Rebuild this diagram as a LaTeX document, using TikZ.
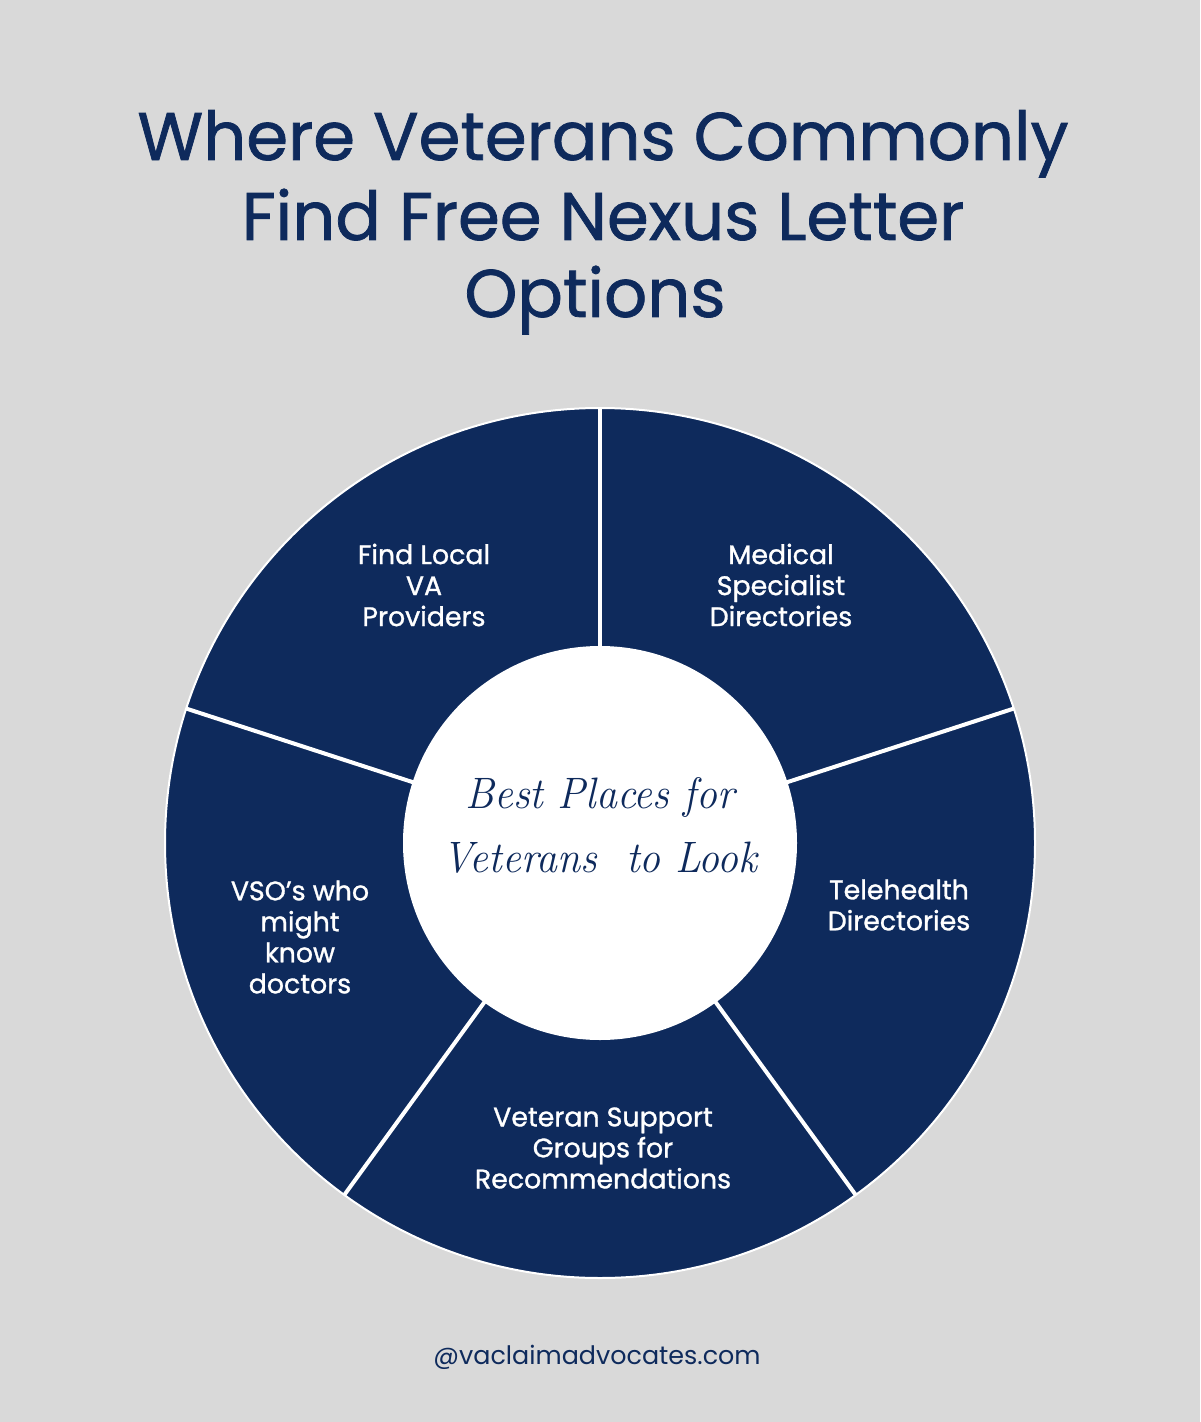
\documentclass[tikz,border=0pt]{standalone}
\usepackage{fontspec}
\usetikzlibrary{calc}
\setmainfont{Poppins}
\newfontfamily\poppinsM{Poppins}[FakeBold=1.1]
\newfontfamily\serifit{Latin Modern Roman}[FakeStretch=0.95]
\definecolor{navy}{HTML}{0E2A5C}
\definecolor{bggray}{HTML}{D9D9D9}
\tikzset{
  titleline/.style={anchor=base, text=navy, font=\poppinsM\fontsize{33.7}{39}\selectfont, inner sep=0pt},
  seglabel/.style={align=center, text=white, font=\poppinsM\fontsize{13.4}{15.5}\selectfont, inner sep=0pt},
  centreline/.style={anchor=base, text=navy, inner sep=0pt, font=\serifit\itshape\fontsize{22}{32}\selectfont},
  divider/.style={white, line width=2pt},
}
\begin{document}
\begin{tikzpicture}[x=0.5pt, y=-0.5pt]
\fill[bggray] (0,0) rectangle (1200,1422);
\useasboundingbox (0,0) rectangle (1200,1422);
% title
\node[titleline] (t1) at (603,160) {Where Veterans Commonly};
\node[titleline] (t2) at (603,240) {Find Free Nexus Letter};
\node[titleline] (t3) at (595,317) {Options};
% wheel
\coordinate (c) at (600,843);
\fill[navy] (c) circle[radius=435];
\draw[white, line width=1pt] (c) circle[radius=435];
\foreach \a/\n in {-90/d1,-18/d2,54/d3,126/d4,-162/d5}{
  \coordinate (\n) at ($(c)+(\a:435)$);
  \draw[divider] (c) -- (\n);
}
\fill[white] (c) circle[radius=197];
% labels
\node[seglabel] (l1) at (424,585) {Find Local\\VA\\Providers};
\node[seglabel] (l2) at (781,585) {Medical\\Specialist\\Directories};
\node[seglabel] (l3) at (899,905) {Telehealth\\Directories};
\node[seglabel] (l4) at (603,1148) {Veteran Support\\Groups for\\Recommendations};
\node[seglabel] (l5) at (300,937) {VSO’s who\\might\\know\\doctors};
% centre
\node[centreline] (cm1) at (600,808) {Best Places for};
\node[centreline] (cm2) at (600,872) {Veterans~ to Look};
% footer
\node[anchor=base, text=navy, inner sep=0pt, font=\fontsize{12.7}{15}\selectfont] (ft) at (597,1364) {@vaclaimadvocates.com};
\end{tikzpicture}
\end{document}
